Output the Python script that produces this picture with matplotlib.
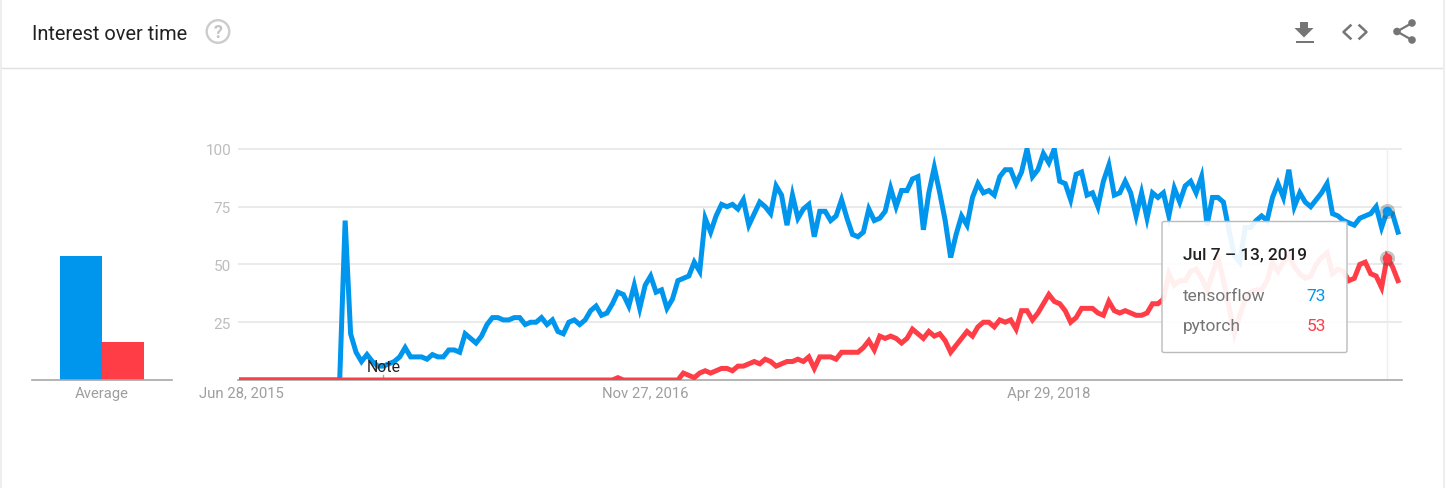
"""Google Trends style card: interest over time for tensorflow and pytorch."""

import matplotlib
matplotlib.use("Agg")
import matplotlib.pyplot as plt
from matplotlib.patches import Circle, FancyBboxPatch, Polygon

plt.rcParams["font.family"] = ["Roboto", "DejaVu Sans"]

BLUE = "#0096ed"
RED = "#ff3d47"
GRID = "#e4e4e4"
MUTED = "#9e9e9e"
ICON = "#757575"

series_names = ["tensorflow", "pytorch"]
tensorflow = [
    0, 0, 0, 0, 0, 0, 0, 0, 0, 0, 0, 0, 0, 0, 0, 0, 0, 0, 0, 69,
    20, 12, 8, 11, 8, 6, 6, 7, 8, 10, 14, 10, 10, 10, 9, 11, 10, 10, 13, 13,
    12, 20, 18, 16, 19, 24, 27, 27, 26, 26, 27, 27, 24, 25, 25, 27, 24, 26, 21, 20,
    25, 26, 24, 26, 30, 32, 28, 29, 33, 38, 37, 32, 41, 31, 41, 45, 38, 39, 31, 35,
    43, 44, 45, 51, 47, 70, 64, 71, 76, 75, 76, 74, 78, 67, 72, 77, 75, 72, 84, 80,
    67, 80, 70, 74, 76, 62, 73, 73, 69, 71, 78, 70, 63, 62, 64, 74, 69, 70, 73, 83,
    75, 82, 82, 87, 88, 65, 81, 92, 81, 69, 53, 63, 71, 67, 79, 85, 81, 82, 80, 88,
    91, 91, 85, 90, 100, 88, 91, 98, 94, 100, 86, 85, 78, 89, 90, 80, 81, 75, 86, 93,
    80, 81, 86, 81, 71, 81, 70, 81, 79, 81, 71, 83, 77, 84, 86, 81, 88, 67, 79, 79,
    77, 65, 54, 51, 66, 66, 69, 71, 69, 79, 85, 79, 91, 75, 81, 77, 75, 78, 81, 85,
    72, 71, 69, 68, 67, 70, 71, 72, 75, 66, 73, 72, 64,
]
pytorch = [
    0, 0, 0, 0, 0, 0, 0, 0, 0, 0, 0, 0, 0, 0, 0, 0, 0, 0, 0, 0,
    0, 0, 0, 0, 0, 0, 0, 0, 0, 0, 0, 0, 0, 0, 0, 0, 0, 0, 0, 0,
    0, 0, 0, 0, 0, 0, 0, 0, 0, 0, 0, 0, 0, 0, 0, 0, 0, 0, 0, 0,
    0, 0, 0, 0, 0, 0, 0, 0, 0, 1, 0, 0, 0, 0, 0, 0, 0, 0, 0, 0,
    0, 3, 2, 1, 3, 4, 3, 4, 5, 5, 4, 6, 6, 7, 8, 7, 9, 8, 6, 7,
    8, 8, 9, 8, 10, 5, 10, 10, 10, 9, 12, 12, 12, 12, 14, 17, 13, 19, 18, 19,
    18, 16, 18, 22, 20, 18, 21, 19, 20, 17, 12, 15, 18, 21, 19, 23, 25, 25, 23, 26,
    25, 26, 22, 30, 30, 26, 29, 33, 37, 34, 33, 30, 25, 27, 31, 31, 31, 29, 28, 34,
    30, 29, 30, 29, 28, 28, 29, 33, 33, 35, 46, 41, 43, 43, 47, 48, 44, 39, 46, 53,
    43, 32, 20, 28, 35, 38, 39, 39, 43, 51, 47, 51, 54, 49, 46, 44, 45, 50, 53, 55,
    46, 48, 47, 43, 44, 50, 51, 46, 45, 40, 53, 49, 43,
]
averages = [53.5, 16.5]
date_ticks = [0, 74, 148]
date_labels = ["Jun 28, 2015", "Nov 27, 2016", "Apr 29, 2018"]
value_ticks = [25, 50, 75, 100]
note_week = 26
hover_week = 210
hover_label = "Jul 7 \u2013 13, 2019"

W, H = 1446, 489
fig = plt.figure(figsize=(W / 100, H / 100), dpi=100, facecolor="white")


def px_axes(left, top, right, bottom, **kwargs):
    return fig.add_axes([left / W, 1 - bottom / H, (right - left) / W, (bottom - top) / H], **kwargs)


# main line chart, 5.455 px per week starting at x=241.5
week_px = 5.455
ax = px_axes(238, 149, 1402, 381)
ax.set_facecolor("none")
ax.set_xlim((238 - 241.5) / week_px, (1402 - 241.5) / week_px)
ax.set_ylim(0, 100.4)
for name in ["top", "right", "left"]:
    ax.spines[name].set_visible(False)
ax.spines["bottom"].set_color("#a8a8a8")
ax.spines["bottom"].set_linewidth(1.2)
ax.set_yticks(value_ticks)
ax.set_yticklabels([str(v) for v in value_ticks], color="#bdbdbd", fontsize=11)
ax.tick_params(axis="y", length=0, pad=5)
ax.set_xticks(date_ticks)
ax.set_xticklabels(date_labels, color=MUTED, fontsize=10.7)
ax.tick_params(axis="x", length=0, pad=4)
ax.grid(axis="y", color=GRID, linewidth=1.1)
ax.set_axisbelow(True)
ax.axvline(hover_week, color="#eeeeee", linewidth=1, zorder=1)

weeks = list(range(len(tensorflow)))
ax.plot(weeks, tensorflow, color=BLUE, linewidth=3.6, solid_joinstyle="miter", zorder=3)
ax.plot(weeks, pytorch, color=RED, linewidth=3.6, solid_joinstyle="miter", zorder=4)

# hover dots with their soft grey halo
for values, color in [(tensorflow, BLUE), (pytorch, RED)]:
    ax.scatter([hover_week], [values[hover_week]], s=120, color="#444444", alpha=0.3, linewidths=0, zorder=5, clip_on=False)
    ax.scatter([hover_week], [values[hover_week]], s=48, color=color, linewidths=0, zorder=6, clip_on=False)

# note marker
ax.plot([note_week, note_week], [0, 2.2], color="#a8a8a8", linewidth=1, zorder=2)
ax.text(note_week, 5.8, "Note", ha="center", va="center", color="#222222", fontsize=11.4, zorder=7)

# average bars
bar_ax = px_axes(32, 149, 172, 381)
bar_ax.set_facecolor("none")
bar_ax.set_xlim(-1.15, 2.15)
bar_ax.set_ylim(0, 100.4)
bar_ax.bar([0, 1], averages, width=1.0, color=[BLUE, RED])
for name in ["top", "right", "left"]:
    bar_ax.spines[name].set_visible(False)
bar_ax.spines["bottom"].set_color("#a8a8a8")
bar_ax.spines["bottom"].set_linewidth(1.2)
bar_ax.set_yticks([])
bar_ax.set_xticks([0.5])
bar_ax.set_xticklabels(["Average"], color=MUTED, fontsize=10.7)
bar_ax.tick_params(axis="x", length=0, pad=4)

# card furniture drawn in pixel coordinates
ui = fig.add_axes([0, 0, 1, 1], zorder=10)
ui.set_xlim(0, W)
ui.set_ylim(H, 0)
ui.axis("off")
ui.patch.set_alpha(0)

ui.plot([0, W - 3], [68.5, 68.5], color="#e0e0e0", linewidth=1)
ui.plot([1, 1], [0, H], color="#eeeeee", linewidth=1.5)
ui.plot([W - 2, W - 2], [0, H], color="#eeeeee", linewidth=1.5)

ui.text(32, 34.5, "Interest over time", fontsize=14.4, color="#212121", va="center", ha="left")
ui.add_patch(Circle((218, 32.5), 11.3, facecolor="none", edgecolor="#cccccc", linewidth=1.7))
ui.text(218, 33, "?", fontsize=13, color="#c4c4c4", ha="center", va="center", fontweight="bold")

# download icon
ui.add_patch(Polygon([(1300, 23), (1308, 23), (1308, 29), (1313.5, 29), (1304, 38.5), (1294.5, 29), (1300, 29)],
                     facecolor=ICON, edgecolor="none"))
ui.add_patch(Polygon([(1295.5, 41.5), (1313.5, 41.5), (1313.5, 44), (1295.5, 44)], facecolor=ICON, edgecolor="none"))
# embed icon
ui.plot([1350.5, 1343.5, 1350.5], [26.5, 33, 39.5], color=ICON, linewidth=1.8)
ui.plot([1359.5, 1366.5, 1359.5], [26.5, 33, 39.5], color=ICON, linewidth=1.8)
# share icon
ui.plot([1412, 1397, 1412], [24, 32.5, 41], color=ICON, linewidth=1.6)
for cx, cy in [(1412, 24), (1397, 32.5), (1412, 41)]:
    ui.add_patch(Circle((cx, cy), 3.8, facecolor=ICON, edgecolor="none"))

# hover tooltip
ui.add_patch(FancyBboxPatch((1162, 222.5), 185, 131, boxstyle="round,pad=0,rounding_size=2",
                            facecolor=(1, 1, 1, 0.92), edgecolor="#bbbbbb", linewidth=1))
ui.text(1183, 254.5, hover_label, fontsize=12.4, fontweight="medium", color="#212121", va="center", ha="left")
tooltip_rows = [(series_names[0], tensorflow[hover_week], BLUE, 296.5), (series_names[1], pytorch[hover_week], RED, 326.5)]
for name, value, color, row_y in tooltip_rows:
    ui.text(1183, row_y, name, fontsize=12.5, color=ICON, va="center", ha="left")
    ui.text(1326, row_y, str(value), fontsize=12.5, color=color, va="center", ha="right")

fig.savefig("out.png", dpi=100)
plt.close(fig)
